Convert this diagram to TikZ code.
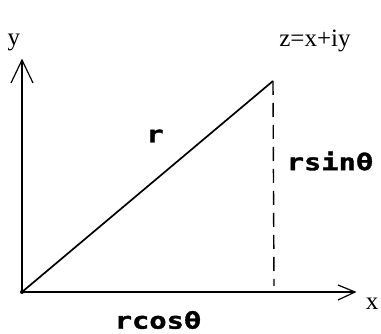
\documentclass[tikz,border=0pt]{standalone}
\usepackage{fontspec}
\setmainfont{Liberation Serif}
\newfontfamily\bitfont[FakeStretch=1.25,FakeBold=1.5]{DejaVu Sans Mono Bold}
\begin{document}
\begin{tikzpicture}[x=1pt,y=-1pt,
  axis/.style={line width=1.6pt},
  vline/.style={line width=1.2pt},
  radius line/.style={line width=1.7pt},
  dashline/.style={line width=1.4pt,dash pattern=on 14pt off 8pt},
  serif/.style={font=\fontsize{25}{27}\selectfont,inner sep=0pt},
  bold/.style={font=\bitfont\fontsize{23}{25}\selectfont,inner sep=0pt}]
\useasboundingbox (0,0) rectangle (381,334);
\coordinate (O) at (22,292);
\coordinate (Y) at (22,60);
\coordinate (X) at (355,292);
\coordinate (Ya) at (11,83);
\coordinate (Yb) at (33,83);
\coordinate (Xa) at (338,285);
\coordinate (Xb) at (338,300);
\coordinate (P) at (273,81);
\coordinate (F) at (274,286);
\draw[axis] (O) -- (Y);
\draw[axis] (O) -- (X);
\draw[vline] (Ya) -- (Y) -- (Yb);
\draw[vline] (Xa) -- (X) -- (Xb);
\draw[radius line] (O) -- (P);
\draw[dashline] (P) -- (F);
\fill (O) circle (2pt);
\node[serif] (ylab) at (14,42) {y};
\node[serif] (xlab) at (372,304) {x};
\node[serif] (zlab) at (315,41) {z=x+iy};
\node[bold] (rlab) at (155,136) {r};
\node[bold] (slab) at (330,161) {rsinθ};
\node[bold] (clab) at (158,320) {rcosθ};
\end{tikzpicture}
\end{document}
